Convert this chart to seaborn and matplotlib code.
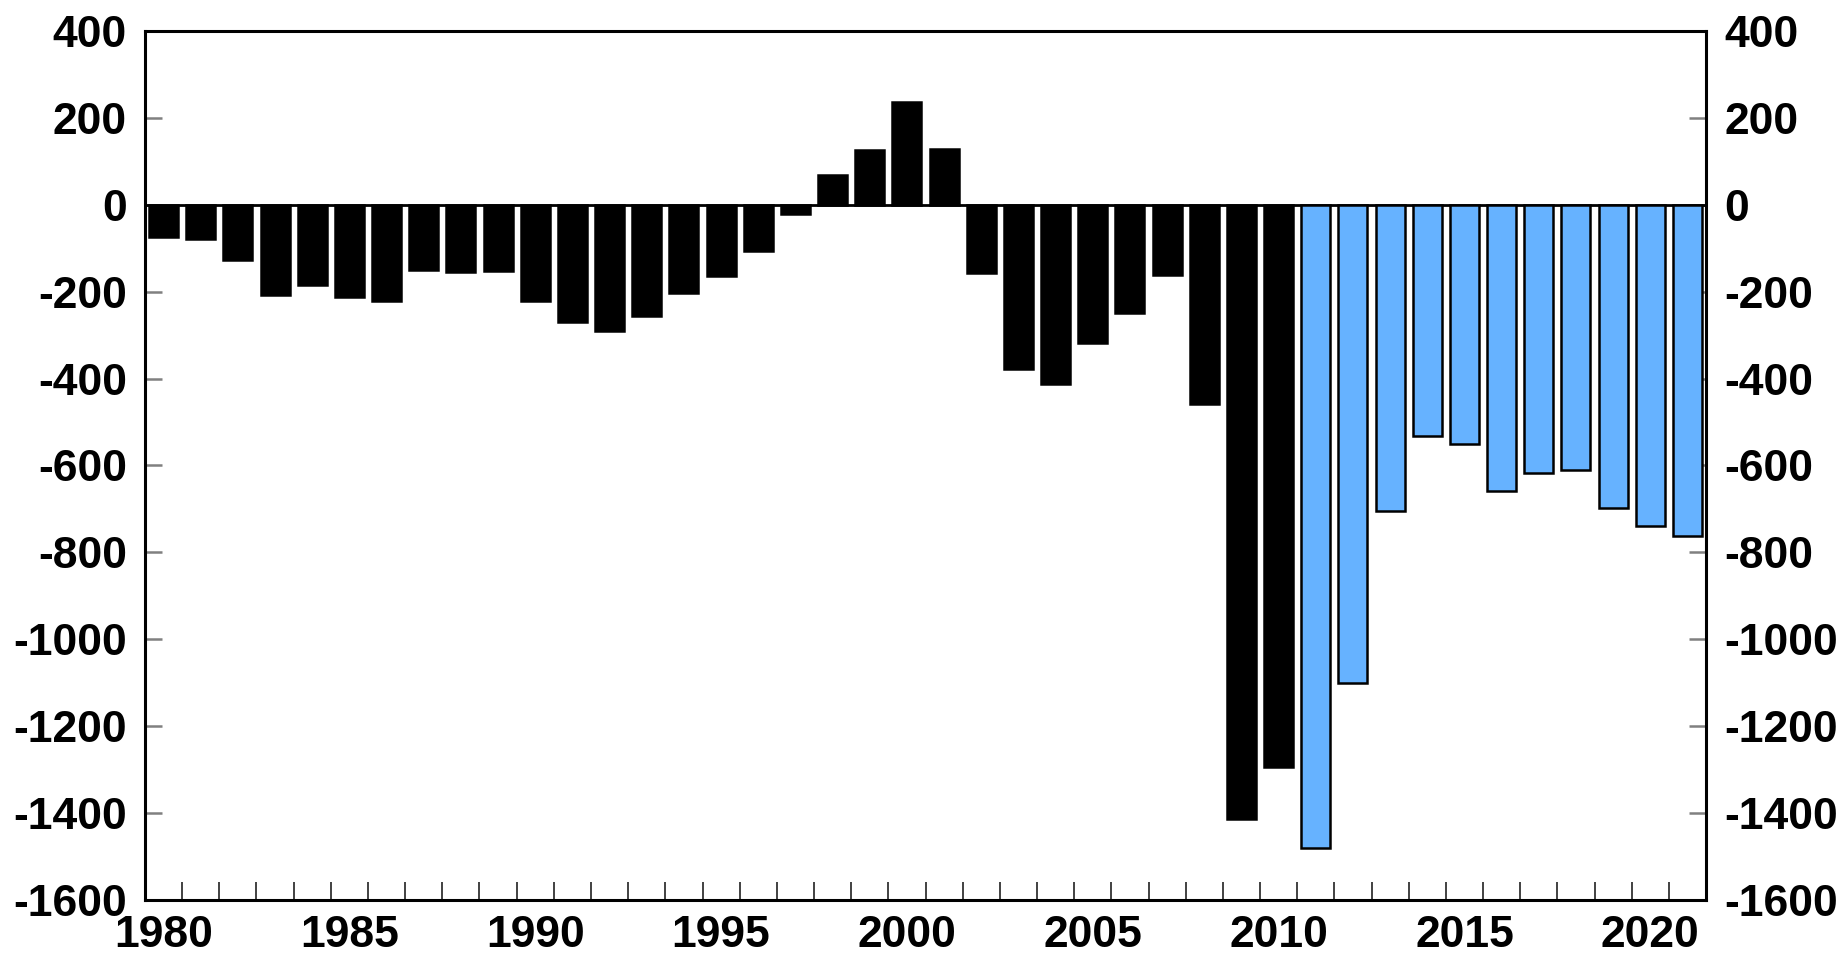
import matplotlib
matplotlib.use("Agg")
import matplotlib.pyplot as plt
import seaborn as sns
import pandas as pd
import numpy as np
from matplotlib.ticker import FixedLocator

# ---- data ----
years_actual = list(range(1980, 2011))
actual = [-74, -79, -128, -208, -185, -212, -221, -150, -155, -153,
          -221, -269, -290, -255, -203, -164, -107, -22, 69, 126,
          236, 128, -158, -378, -413, -318, -248, -161, -459, -1413,
          -1294]
years_projected = list(range(2011, 2022))
projected = [-1480, -1100, -704, -533, -551, -659, -617, -610, -697, -739, -763]
y_ticks = [400, 200, 0, -200, -400, -600, -800, -1000, -1200, -1400, -1600]
x_label_years = [1980, 1985, 1990, 1995, 2000, 2005, 2010, 2015, 2020]

df = pd.DataFrame({
    "year": [str(y) for y in years_actual + years_projected],
    "value": actual + projected,
    "period": ["actual"] * len(actual) + ["projected"] * len(projected),
})
order = list(df["year"])

sns.set_style("white")
plt.rcParams["font.family"] = ["Liberation Sans", "DejaVu Sans"]
plt.rcParams["font.weight"] = "bold"
plt.rcParams["text.color"] = "black"
plt.rcParams["xtick.labelcolor"] = "black"
plt.rcParams["ytick.labelcolor"] = "black"

fig = plt.figure(figsize=(18.49, 9.59), dpi=100)
ax = fig.add_axes([0.0784, 0.0615, 0.8443, 0.9062])

ax.axhline(0, color="black", lw=2.0, zorder=1)
sns.barplot(data=df, x="year", y="value", hue="period", order=order,
            palette={"actual": "black", "projected": "#66B2FF"},
            dodge=False, width=0.78, saturation=1, edgecolor="black",
            linewidth=1.8, legend=False, ax=ax, zorder=2)

n = len(order)
ax.set_xlim(-0.5, n - 0.5)
ax.set_ylim(-1600, 400)
ax.set_xlabel("")
ax.set_ylabel("")

# y axis ticks on both sides
ax.set_yticks(y_ticks)
ax.set_yticklabels([str(v) for v in y_ticks])
ax.tick_params(axis="y", which="major", left=True, right=True,
               labelleft=True, labelright=True, direction="in",
               length=12, width=1.8, color="#808080", pad=13,
               labelsize=32, labelcolor="black")

# x axis labels centered on bars, ticks at boundaries
pos = [order.index(str(y)) for y in x_label_years]
ax.set_xticks(pos)
ax.set_xticklabels([str(y) for y in x_label_years])
ax.tick_params(axis="x", which="major", length=0, pad=11, labelsize=32,
               labelcolor="black")
ax.xaxis.set_minor_locator(FixedLocator(np.arange(0.5, n - 1, 1.0)))
ax.tick_params(axis="x", which="minor", direction="in", bottom=True,
               top=False, length=13, width=1.3, color="#333333")

for lab in ax.get_xticklabels() + ax.get_yticklabels():
    lab.set_fontweight("bold")

for s in ax.spines.values():
    s.set_visible(True)
    s.set_color("black")
    s.set_linewidth(2.2)

fig.savefig("out.png", dpi=100)
